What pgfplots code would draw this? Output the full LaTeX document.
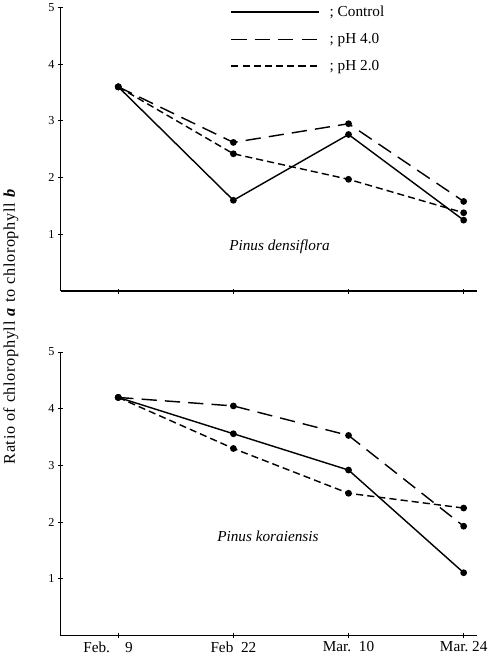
\documentclass[border=0pt]{standalone}
\usepackage{fontspec}
\setmainfont{Liberation Serif}
\usepackage{pgfplots}
\usepackage{pgfplotstable}
\pgfplotsset{compat=1.18}

% ratio of chlorophyll a to b
\pgfplotstableread{
x ctrl ph4 ph2
0 3.60 3.60 3.60
1 1.60 2.62 2.42
2 2.76 2.95 1.97
3 1.25 1.58 1.38
}\densiflora

\pgfplotstableread{
x ctrl ph4 ph2
0 4.20 4.20 4.20
1 3.56 4.05 3.30
2 2.92 3.53 2.51
3 1.11 1.93 2.25
}\koraiensis

\pgfplotsset{
  panel/.style={
    scale only axis, width=410pt, height=279pt,
    xmin=-0.5, xmax=3.12, ymin=0, ymax=5,
    axis x line*=bottom, axis y line*=left,
    axis line style={line width=1.3pt, -},
    xtick={0,1,2,3}, ytick={1,2,3,4,5},
    tick align=center, major tick length=5pt,
    tick style={line width=1pt, black},
    /pgf/number format/assume math mode=true,
    yticklabel style={font=\fontsize{12}{14}\selectfont},
    xticklabel style={font=\fontsize{15}{18}\selectfont},
    every axis plot/.append style={line width=1.4pt, black, mark=*, mark size=2.6pt, mark options={solid}},
    clip=false,
  },
  ctrl/.style={solid},
  ph4/.style={dash pattern=on 15pt off 8pt},
  ph2/.style={dash pattern=on 7pt off 4pt},
}

\begin{document}
\begin{tikzpicture}
% --- top: Pinus densiflora ---
\begin{axis}[
    panel,
    at={(63pt,363pt)}, anchor=south west,
    xticklabels={},
    legend image code/.code={\draw[#1] (0pt,0pt) -- (86pt,0pt);},
    legend style={draw=none, fill=none, at={(rel axis cs:0.40,1.02)}, anchor=north west,
                  font=\fontsize{15}{18}\selectfont, row sep=11pt},
    legend cell align=left,
]
\addplot[ctrl] table[x=x, y=ctrl] {\densiflora};
\addlegendentry{\hspace*{8pt};\ Control}
\addplot[ph4] table[x=x, y=ph4] {\densiflora};
\addlegendentry{\hspace*{8pt};\ pH 4.0}
\addplot[ph2] table[x=x, y=ph2] {\densiflora};
\addlegendentry{\hspace*{8pt};\ pH 2.0}
\node[font=\fontsize{15}{18}\selectfont\itshape] at (axis cs:1.4,0.78) {Pinus densiflora};
\end{axis}

% --- bottom: Pinus koraiensis ---
\begin{axis}[
    panel,
    at={(63pt,24pt)}, anchor=south west,
    xticklabels={\hspace*{-20pt}Feb.\quad 9, Feb\ \ 22, Mar.\ \ 10, Mar.\ 24},
]
\addplot[ctrl] table[x=x, y=ctrl] {\koraiensis};
\addplot[ph4] table[x=x, y=ph4] {\koraiensis};
\addplot[ph2] table[x=x, y=ph2] {\koraiensis};
\node[font=\fontsize{15}{18}\selectfont\itshape] at (axis cs:1.3,1.75) {Pinus koraiensis};
\end{axis}

\node[rotate=90, font=\fontsize{16}{18}\selectfont\addfontfeatures{LetterSpace=4}] at (14pt,328pt)
  {Ratio of chlorophyll \textbf{\textit{a}} to chlorophyll \textbf{\textit{b}}};
\end{tikzpicture}
\end{document}
